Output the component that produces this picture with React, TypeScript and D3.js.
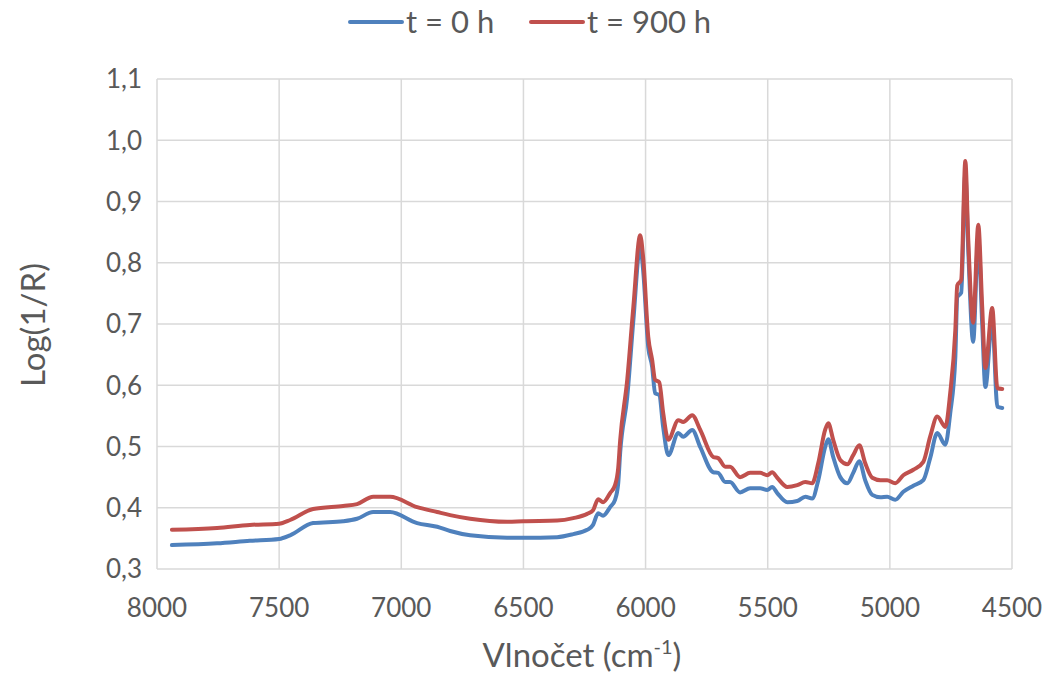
import * as d3 from "d3";
import { useEffect, useRef } from "react";

// wavenumber (cm-1) and Log(1/R)
const wavenumbers = [
  7939, 7754, 7620, 7500, 7455, 7361, 7238, 7181, 7115, 7046, 6935, 6853, 6800, 6718, 6567,
  6501, 6362, 6296, 6239, 6215, 6194, 6174, 6145, 6125, 6112, 6104, 6075, 6050, 6022, 6010,
  5989, 5973, 5961, 5944, 5928, 5907, 5866, 5846, 5809, 5776, 5723, 5703, 5674, 5654, 5613,
  5572, 5531, 5502, 5482, 5461, 5420, 5379, 5346, 5318, 5293, 5265, 5252, 5232, 5203, 5174,
  5150, 5125, 5101, 5072, 5039, 5011, 4978, 4945, 4904, 4863, 4835, 4806, 4773, 4753, 4732,
  4724, 4708, 4691, 4679, 4659, 4638, 4622, 4609, 4581, 4560, 4540,
];
const seriesT0 = [
  0.339, 0.342, 0.346, 0.349, 0.355, 0.375, 0.378, 0.382, 0.393, 0.393, 0.375, 0.369, 0.362, 0.355, 0.351,
  0.351, 0.352, 0.357, 0.364, 0.372, 0.391, 0.387, 0.401, 0.413, 0.44, 0.49, 0.581, 0.706, 0.826, 0.788,
  0.662, 0.63, 0.587, 0.584, 0.532, 0.486, 0.522, 0.516, 0.527, 0.499, 0.458, 0.457, 0.442, 0.442, 0.425,
  0.432, 0.432, 0.429, 0.434, 0.424, 0.409, 0.411, 0.418, 0.415, 0.445, 0.499, 0.512, 0.483, 0.45, 0.44,
  0.457, 0.476, 0.445, 0.421, 0.417, 0.418, 0.413, 0.426, 0.436, 0.445, 0.481, 0.522, 0.503, 0.554, 0.646,
  0.744, 0.751, 0.945, 0.82, 0.671, 0.84, 0.7, 0.597, 0.707, 0.565, 0.563,
];
const seriesT900 = [
  0.364, 0.367, 0.372, 0.374, 0.38, 0.398, 0.403, 0.406, 0.418, 0.418, 0.401, 0.393, 0.388, 0.382, 0.377,
  0.378, 0.379, 0.383, 0.39, 0.396, 0.414, 0.409, 0.424, 0.437, 0.465, 0.51, 0.609, 0.728, 0.845, 0.809,
  0.679, 0.641, 0.609, 0.605, 0.555, 0.511, 0.543, 0.54, 0.551, 0.527, 0.483, 0.481, 0.467, 0.467, 0.45,
  0.457, 0.457, 0.453, 0.458, 0.449, 0.434, 0.437, 0.442, 0.44, 0.473, 0.527, 0.538, 0.511, 0.478, 0.471,
  0.486, 0.502, 0.473, 0.449, 0.445, 0.445, 0.44, 0.453, 0.462, 0.475, 0.516, 0.549, 0.532, 0.587, 0.69,
  0.763, 0.772, 0.966, 0.837, 0.702, 0.862, 0.728, 0.628, 0.726, 0.595, 0.594,
];
const xTicks = [8000, 7500, 7000, 6500, 6000, 5500, 5000, 4500];
const yTicks = [0.3, 0.4, 0.5, 0.6, 0.7, 0.8, 0.9, 1.0, 1.1];
const seriesNames = ["t = 0 h", "t = 900 h"];
const seriesColors = ["#4f81bd", "#c0504d"];

const FONT = "Lato, 'Open Sans', sans-serif";

export default function App() {
  const svgRef = useRef<SVGSVGElement | null>(null);

  useEffect(() => {
    const width = 1046;
    const height = 691;
    const margin = { top: 79, right: 34, bottom: 122, left: 157 };

    const svg = d3.select(svgRef.current)
      .attr("width", width)
      .attr("height", height)
      .html("");

    const x = d3.scaleLinear()
      .domain([8000, 4500])
      .range([margin.left, width - margin.right]);
    const y = d3.scaleLinear()
      .domain([0.3, 1.1])
      .range([height - margin.bottom, margin.top]);

    // grid
    svg.append("g")
      .selectAll("line")
      .data(yTicks)
      .enter()
      .append("line")
      .attr("x1", x(8000))
      .attr("x2", x(4500))
      .attr("y1", d => y(d))
      .attr("y2", d => y(d))
      .attr("stroke", "#d9d9d9")
      .attr("stroke-width", 1.5);

    svg.append("g")
      .selectAll("line")
      .data(xTicks)
      .enter()
      .append("line")
      .attr("x1", d => x(d))
      .attr("x2", d => x(d))
      .attr("y1", y(0.3))
      .attr("y2", y(1.1))
      .attr("stroke", "#d9d9d9")
      .attr("stroke-width", 1.5);

    // tick labels
    svg.append("g")
      .selectAll("text")
      .data(yTicks)
      .enter()
      .append("text")
      .attr("x", 142)
      .attr("y", d => y(d))
      .attr("dy", "0.36em")
      .attr("text-anchor", "end")
      .attr("font-family", FONT)
      .attr("font-size", 26)
      .attr("fill", "#595959")
      .text(d => d3.format(".1f")(d).replace(".", ","));

    svg.append("g")
      .selectAll("text")
      .data(xTicks)
      .enter()
      .append("text")
      .attr("x", d => x(d))
      .attr("y", 617)
      .attr("text-anchor", "middle")
      .attr("font-family", FONT)
      .attr("font-size", 26)
      .attr("fill", "#595959")
      .text(d => String(d));

    // axis titles
    const xt = svg.append("text")
      .attr("x", 582)
      .attr("y", 667)
      .attr("text-anchor", "middle")
      .attr("font-family", FONT)
      .attr("font-size", 33)
      .attr("fill", "#595959");
    xt.append("tspan").text("Vlnočet (cm");
    xt.append("tspan").attr("font-size", 20).attr("dy", -13).text("-1");
    xt.append("tspan").attr("dy", 13).text(")");

    svg.append("text")
      .attr("transform", "translate(45,325) rotate(-90)")
      .attr("text-anchor", "middle")
      .attr("font-family", FONT)
      .attr("font-size", 33)
      .attr("fill", "#595959")
      .text("Log(1/R)");

    // series
    const line = d3.line<number>()
      .x((_, i) => x(wavenumbers[i]))
      .y(d => y(d))
      .curve(d3.curveMonotoneX);

    [seriesT0, seriesT900].forEach((s, k) => {
      svg.append("path")
        .datum(s)
        .attr("d", line)
        .attr("fill", "none")
        .attr("stroke", seriesColors[k])
        .attr("stroke-width", 4)
        .attr("stroke-linejoin", "round")
        .attr("stroke-linecap", "round");
    });

    // legend
    const legendX = [350, 531];
    seriesNames.forEach((name, k) => {
      const g = svg.append("g").attr("transform", `translate(${legendX[k]},22)`);
      g.append("line")
        .attr("x1", 0)
        .attr("x2", 52)
        .attr("stroke", seriesColors[k])
        .attr("stroke-width", 4)
        .attr("stroke-linecap", "round");
      g.append("text")
        .attr("x", 56)
        .attr("dy", "0.36em")
        .attr("font-family", FONT)
        .attr("font-size", 31)
        .attr("fill", "#595959")
        .text(name);
    });
  }, []);

  return <svg ref={svgRef} style={{ position: "absolute", left: 0, top: 0 }}></svg>;
}
